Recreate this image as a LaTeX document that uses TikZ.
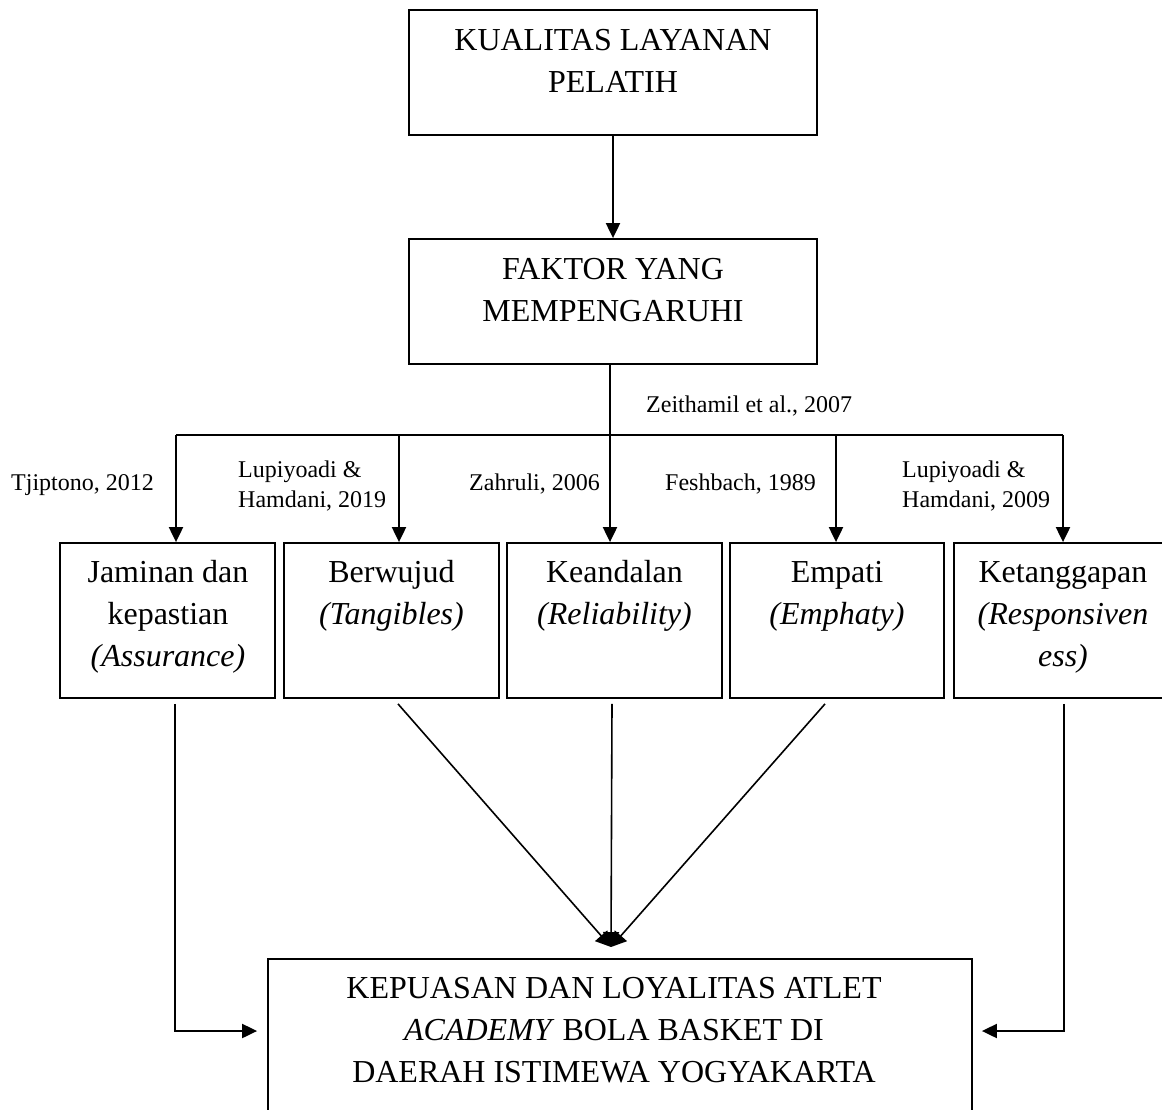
\documentclass[tikz,border=0pt]{standalone}
\usepackage{fontspec}
\setmainfont{Liberation Serif}
\usetikzlibrary{arrows.meta}
\newcommand\bigsz{\fontsize{32}{42}\selectfont}
\newcommand\smallsz{\fontsize{24}{30}\selectfont}
\begin{document}
\begin{tikzpicture}[x=1pt,y=-1pt,
  box/.style={draw, line width=1.8pt, inner sep=0pt},
  txt/.style={inner sep=0pt, anchor=base, align=flush center, font=\bigsz},
  lab/.style={inner sep=0pt, anchor=base west, align=flush left, font=\smallsz},
  arr/.style={line width=2pt, -{Triangle[length=15pt,width=14pt]}},
  convarr/.style={line width=1.6pt, -{Triangle[length=15pt,width=16pt]}},
  ln/.style={line width=2pt}]
\useasboundingbox (0,0) rectangle (1162,1109);

% boxes
\node[box, minimum width=408pt, minimum height=125pt] (b1) at (613,72.5) {};
\node[box, minimum width=408pt, minimum height=125pt] (b2) at (613,301.5) {};
\node[box, minimum width=215pt, minimum height=155pt] (j) at (167.5,620.5) {};
\node[box, minimum width=215pt, minimum height=155pt] (w) at (391.5,620.5) {};
\node[box, minimum width=215pt, minimum height=155pt] (r) at (614.5,620.5) {};
\node[box, minimum width=214pt, minimum height=155pt] (e) at (837,620.5) {};
\node[box, minimum width=216pt, minimum height=155pt] (t) at (1062,620.5) {};
\node[box, minimum width=704pt, minimum height=181pt] (k) at (620,1049.5) {};

% box texts
\node[txt, text width=400pt] (b1t) at (613,50) {KUALITAS LAYANAN\\PELATIH};
\node[txt, text width=400pt] (b2t) at (613,279) {FAKTOR YANG\\MEMPENGARUHI};
\node[txt, text width=210pt] (jt) at (168,582) {Jaminan dan\\kepastian\\\textit{(Assurance)}};
\node[txt, text width=210pt] (wt) at (391.5,582) {Berwujud\\\textit{(Tangibles)}};
\node[txt, text width=210pt] (rt) at (614.5,582) {Keandalan\\\textit{(Reliability)}};
\node[txt, text width=210pt] (et) at (837,582) {Empati\\\textit{(Emphaty)}};
\node[txt, text width=210pt] (tt) at (1063,582) {Ketanggapan\\\textit{(Responsiven}\\\textit{ess)}};
\node[txt, text width=690pt] (kt) at (614,998) {KEPUASAN DAN LOYALITAS ATLET\\\textit{ACADEMY} BOLA BASKET DI\\DAERAH ISTIMEWA YOGYAKARTA};

% citation labels
\node[lab] (l0) at (646,412) {Zeithamil et al., 2007};
\node[lab] (l1) at (11,490) {Tjiptono, 2012};
\node[lab, text width=160pt] (l2) at (238,477) {Lupiyoadi \&\\Hamdani, 2019};
\node[lab] (l3) at (469,490) {Zahruli, 2006};
\node[lab] (l4) at (665,490) {Feshbach, 1989};
\node[lab, text width=160pt] (l5) at (902,477) {Lupiyoadi \&\\Hamdani, 2009};

% top connectors
\draw[arr] (b1) -- (b2);
\coordinate (split) at (610,435);
\coordinate (aJ) at (176,435);
\coordinate (aW) at (399,435);
\coordinate (aR) at (610,435);
\coordinate (aE) at (836,435);
\coordinate (aT) at (1063,435);
\draw[ln] (b2.south -| split) -- (split);
\draw[ln] (aJ) -- (aT);
\draw[arr] (aJ) -- (aJ |- j.north);
\draw[arr] (aW) -- (aW |- w.north);
\draw[arr] (aR) -- (aR |- r.north);
\draw[arr] (aE) -- (aE |- e.north);
\draw[arr] (aT) -- (aT |- t.north);

% bottom connectors
\coordinate (yB) at (0,1031);
\coordinate (conv) at (611,947);
\draw[arr] ([xshift=7.5pt,yshift=-5pt]j.south) |- ([xshift=-10pt]k.west |- yB);
\draw[arr] ([xshift=2pt,yshift=-5pt]t.south) |- ([xshift=9pt]k.east |- yB);
\draw[convarr] ([xshift=6.5pt,yshift=-5pt]w.south) -- (conv);
\draw[convarr] ([xshift=-2.5pt,yshift=-5pt]r.south) -- (conv);
\draw[convarr] ([xshift=-12pt,yshift=-5pt]e.south) -- (conv);
\end{tikzpicture}
\end{document}
